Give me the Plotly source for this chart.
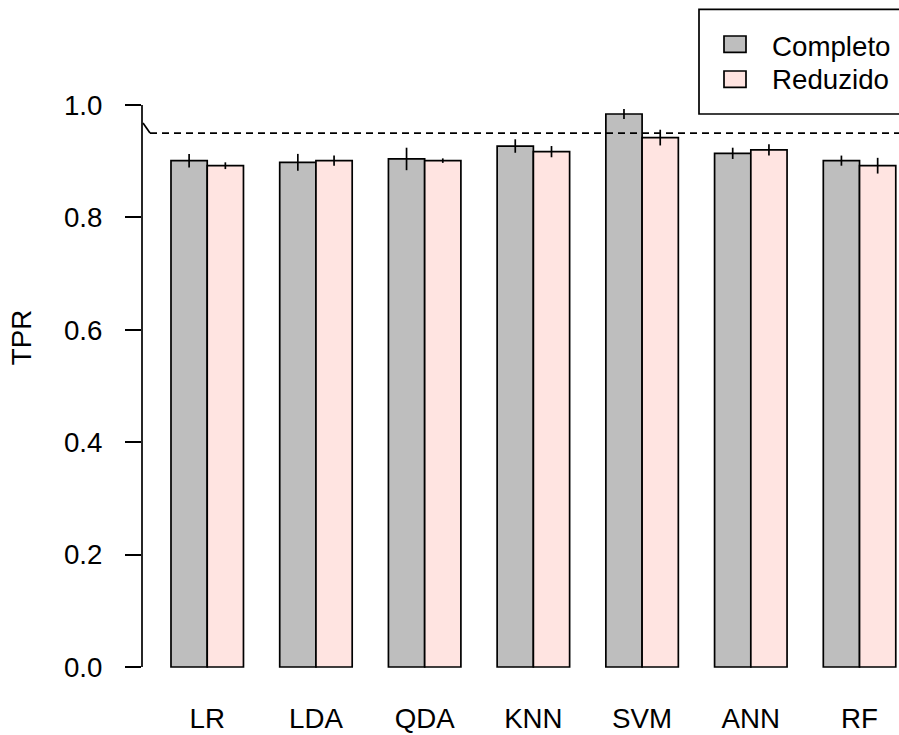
import plotly.graph_objects as go

# ---- data ----
categories = ["LR", "LDA", "QDA", "KNN", "SVM", "ANN", "RF"]
completo = [0.901, 0.898, 0.904, 0.927, 0.984, 0.914, 0.901]
completo_err = [0.012, 0.015, 0.020, 0.012, 0.009, 0.010, 0.009]
reduzido = [0.892, 0.901, 0.901, 0.917, 0.942, 0.920, 0.892]
reduzido_err = [0.006, 0.009, 0.004, 0.010, 0.014, 0.010, 0.014]
series_names = ["Completo", "Reduzido"]
y_ticks = [0.0, 0.2, 0.4, 0.6, 0.8, 1.0]
threshold = 0.95

# ---- layout geometry ----
W, H = 899, 735
ML, MR, MT, MB = 142, 0, 0, 60
PW, PH = W - ML - MR, H - MT - MB
FONT = "Liberation Sans, Arial, Helvetica, sans-serif"
FS = 27.7
LW = 1.7


def px_x(p):
    return (p - ML) / PW


def px_y(p):
    return (H - MB - p) / PH


fig = go.Figure()
fig.add_trace(go.Bar(
    x=categories, y=completo, name=series_names[0],
    marker=dict(color="#BEBEBE", line=dict(color="black", width=LW)),
    error_y=dict(type="data", array=completo_err, width=0, thickness=LW, color="black"),
))
fig.add_trace(go.Bar(
    x=categories, y=reduzido, name=series_names[1],
    marker=dict(color="#FFE4E1", line=dict(color="black", width=LW)),
    error_y=dict(type="data", array=reduzido_err, width=0, thickness=LW, color="black"),
))

shapes = [
    # y axis line from 0 to 1
    dict(type="line", xref="paper", yref="y", x0=0, x1=0, y0=0, y1=1.0,
         line=dict(color="black", width=LW)),
    # threshold: short solid lead-in then dashed line
    dict(type="line", xref="paper", yref="paper", x0=px_x(143), x1=px_x(150),
         y0=px_y(123), y1=px_y(133), line=dict(color="black", width=LW)),
    dict(type="line", xref="paper", yref="y", x0=px_x(150), x1=px_x(905),
         y0=threshold, y1=threshold, line=dict(color="black", width=LW, dash="7px,5px")),
    # legend box
    dict(type="rect", xref="paper", yref="paper", x0=px_x(699), x1=px_x(910),
         y0=px_y(114), y1=px_y(9.3), line=dict(color="black", width=LW),
         fillcolor="white", layer="above"),
    dict(type="rect", xref="paper", yref="paper", x0=px_x(724), x1=px_x(746),
         y0=px_y(52.3), y1=px_y(36), line=dict(color="black", width=LW),
         fillcolor="#BEBEBE", layer="above"),
    dict(type="rect", xref="paper", yref="paper", x0=px_x(724), x1=px_x(746),
         y0=px_y(87.3), y1=px_y(71), line=dict(color="black", width=LW),
         fillcolor="#FFE4E1", layer="above"),
]

annotations = [
    dict(text=series_names[0], xref="paper", yref="paper", x=px_x(770), y=px_y(46),
         xanchor="left", yanchor="middle", showarrow=False,
         font=dict(family=FONT, size=FS, color="black")),
    dict(text=series_names[1], xref="paper", yref="paper", x=px_x(770), y=px_y(80),
         xanchor="left", yanchor="middle", showarrow=False,
         font=dict(family=FONT, size=FS, color="black")),
]

fig.update_layout(
    width=W, height=H,
    margin=dict(l=ML, r=MR, t=MT, b=MB, pad=0),
    paper_bgcolor="white", plot_bgcolor="white",
    barmode="group", bargap=1/3, bargroupgap=0,
    showlegend=False,
    font=dict(family=FONT, size=FS, color="black"),
    shapes=shapes, annotations=annotations,
    xaxis=dict(
        range=[-0.6, 6.363], showgrid=False, zeroline=False, showline=False,
        ticks="", tickfont=dict(family=FONT, size=FS, color="black"),
        ticklabelstandoff=24,
    ),
    yaxis=dict(
        range=[-8 / 562, 667 / 562], showgrid=False, zeroline=False, showline=False,
        tickvals=y_ticks, tickformat=".1f", ticks="outside", ticklen=16,
        tickwidth=LW, tickcolor="black",
        tickfont=dict(family=FONT, size=FS, color="black"),
        ticklabelstandoff=17,
        title=dict(text="TPR", font=dict(family=FONT, size=FS, color="black"), standoff=24),
    ),
)

fig.write_html(
    "out.html",
    config={"displayModeBar": False},
    post_script="document.body.style.margin='0';document.body.style.overflow='hidden';",
)
